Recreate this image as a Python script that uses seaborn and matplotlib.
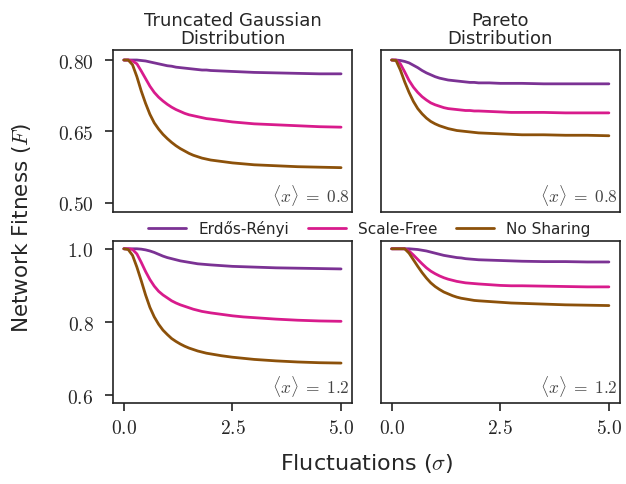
import numpy as np
import pandas as pd
import seaborn as sns
import matplotlib.pyplot as plt
from matplotlib.ticker import FormatStrFormatter

# fluctuation values (sigma) shared by every curve
sigma = [0.0, 0.1, 0.2, 0.3, 0.4, 0.5, 0.6, 0.7, 0.8, 0.9, 1.0, 1.1, 1.2, 1.3, 1.4,
         1.5, 1.6, 1.7, 1.8, 1.9, 2.0, 2.25, 2.5, 2.75, 3.0, 3.5, 4.0, 4.5, 5.0]

# truncated gaussian, <x> = 0.8
tg08_er = [.800, .800, .800, .800, .799, .798, .796, .794, .792, .790, .788, .787, .785, .784, .783,
           .782, .781, .780, .779, .779, .778, .777, .776, .775, .774, .773, .772, .771, .771]
tg08_sf = [.800, .800, .798, .792, .777, .761, .745, .732, .722, .714, .707, .701, .696, .692, .688,
           .685, .683, .681, .679, .677, .676, .673, .670, .668, .666, .664, .662, .660, .659]
tg08_ns = [.800, .800, .790, .765, .735, .709, .686, .668, .655, .644, .635, .627, .620, .614, .609,
           .604, .600, .597, .594, .592, .590, .587, .584, .582, .580, .578, .576, .575, .574]

# pareto, <x> = 0.8
pa08_er = [.800, .800, .799, .797, .794, .789, .784, .778, .773, .769, .765, .762, .760, .758, .757,
           .756, .755, .754, .753, .753, .752, .752, .751, .751, .751, .750, .750, .750, .750]
pa08_sf = [.800, .800, .792, .775, .757, .743, .732, .723, .716, .710, .706, .703, .700, .698, .697,
           .696, .695, .694, .694, .693, .693, .692, .691, .690, .690, .690, .689, .689, .689]
pa08_ns = [.800, .799, .779, .754, .732, .713, .698, .687, .678, .671, .666, .662, .659, .656, .654,
           .652, .651, .650, .649, .648, .647, .646, .645, .644, .643, .643, .642, .642, .641]

# truncated gaussian, <x> = 1.2
tg12_er = [1.000, 1.000, 1.000, 1.000, .999, .997, .994, .990, .985, .980, .976, .973, .970, .967, .965,
           .963, .961, .959, .958, .957, .956, .954, .952, .951, .950, .948, .947, .946, .945]
tg12_sf = [1.000, 1.000, .998, .986, .963, .938, .916, .898, .884, .874, .866, .858, .852, .847, .843,
           .839, .835, .832, .829, .827, .825, .821, .817, .814, .812, .808, .805, .803, .802]
tg12_ns = [1.000, .998, .982, .950, .913, .874, .840, .814, .794, .778, .766, .755, .747, .740, .734,
           .729, .725, .721, .718, .715, .713, .708, .704, .701, .698, .694, .691, .689, .688]

# pareto, <x> = 1.2
pa12_er = [1.000, 1.000, 1.000, 1.000, 1.000, .999, .998, .996, .994, .991, .988, .985, .982, .980, .978,
           .976, .975, .973, .972, .971, .970, .969, .968, .967, .966, .965, .965, .964, .964]
pa12_sf = [1.000, 1.000, 1.000, 1.000, .994, .983, .971, .959, .948, .939, .932, .926, .921, .917, .914,
           .911, .909, .907, .906, .905, .904, .902, .900, .899, .899, .898, .897, .896, .896]
pa12_ns = [1.000, 1.000, 1.000, 1.000, .988, .970, .952, .935, .920, .907, .897, .889, .882, .877, .872,
           .868, .865, .863, .861, .859, .858, .856, .854, .852, .851, .849, .847, .846, .845]

networks = ["Erdős-Rényi", "Scale-Free", "No Sharing"]
colors = ["#7b3294", "#d81b8c", "#8c510a"]
col_titles = ["Truncated Gaussian\nDistribution", "Pareto\nDistribution"]
row_labels = [r"$\langle x\rangle\;=\;0.8$", r"$\langle x\rangle\;=\;1.2$"]

panels = [[(tg08_er, tg08_sf, tg08_ns), (pa08_er, pa08_sf, pa08_ns)],
          [(tg12_er, tg12_sf, tg12_ns), (pa12_er, pa12_sf, pa12_ns)]]

sns.set_theme(style="ticks")
plt.rcParams["font.family"] = ["DejaVu Sans"]
plt.rcParams["mathtext.fontset"] = "cm"

fig, axes = plt.subplots(2, 2, figsize=(6.26, 4.85), dpi=100, sharex=True, sharey="row")
fig.subplots_adjust(left=0.1805, right=0.990, top=0.8948, bottom=0.167,
                    wspace=0.121, hspace=0.18)

for i in range(2):
    for j in range(2):
        ax = axes[i, j]
        df = pd.DataFrame({
            "sigma": sigma * 3,
            "F": list(panels[i][j][0]) + list(panels[i][j][1]) + list(panels[i][j][2]),
            "net": [n for n in networks for _ in sigma],
        })
        sns.lineplot(data=df, x="sigma", y="F", hue="net", hue_order=networks,
                     palette=colors, linewidth=2, ax=ax, legend=(i == 0 and j == 0))
        ax.set_xlabel("")
        ax.set_ylabel("")
        ax.text(0.99, 0.065, row_labels[i], transform=ax.transAxes,
                ha="right", va="baseline", fontsize=12.5, color="#444444")
        for s in ax.spines.values():
            s.set_color("#222222")
            s.set_linewidth(1.2)
        ax.tick_params(labelsize=14, length=6, width=1.2, color="#222222", pad=5)
        ax.tick_params(axis="y", pad=8)
        if j == 1:
            ax.tick_params(axis="y", left=False, labelleft=False)
        if i == 0:
            ax.tick_params(axis="x", bottom=False)
            ax.set_title(col_titles[j], fontsize=13, linespacing=1.0, pad=5)

axes[0, 0].set_ylim(0.481, 0.821)
axes[0, 0].set_yticks([0.50, 0.65, 0.80])
axes[0, 0].yaxis.set_major_formatter(FormatStrFormatter("$%.2f$"))
axes[1, 0].set_ylim(0.579, 1.021)
axes[1, 0].set_yticks([0.6, 0.8, 1.0])
axes[1, 0].yaxis.set_major_formatter(FormatStrFormatter("$%.1f$"))
axes[1, 0].set_xticks([0.0, 2.5, 5.0])
for ax in axes[1]:
    ax.xaxis.set_major_formatter(FormatStrFormatter("$%.1f$"))

handles, labels = axes[0, 0].get_legend_handles_labels()
axes[0, 0].get_legend().remove()
fig.legend(handles, labels, loc="center", bbox_to_anchor=(0.59, 1 - 229 / 485),
           ncol=3, frameon=False, fontsize=11, handlelength=2.5,
           columnspacing=1.2, borderaxespad=0, borderpad=0)

fig.text(0.585, 0.045, r"Fluctuations ($\sigma$)", ha="center", va="center", fontsize=16)
fig.text(0.034, 0.53, r"Network Fitness ($F$)", ha="center", va="center",
         rotation=90, fontsize=15.5)

fig.savefig("out.png", dpi=100)
